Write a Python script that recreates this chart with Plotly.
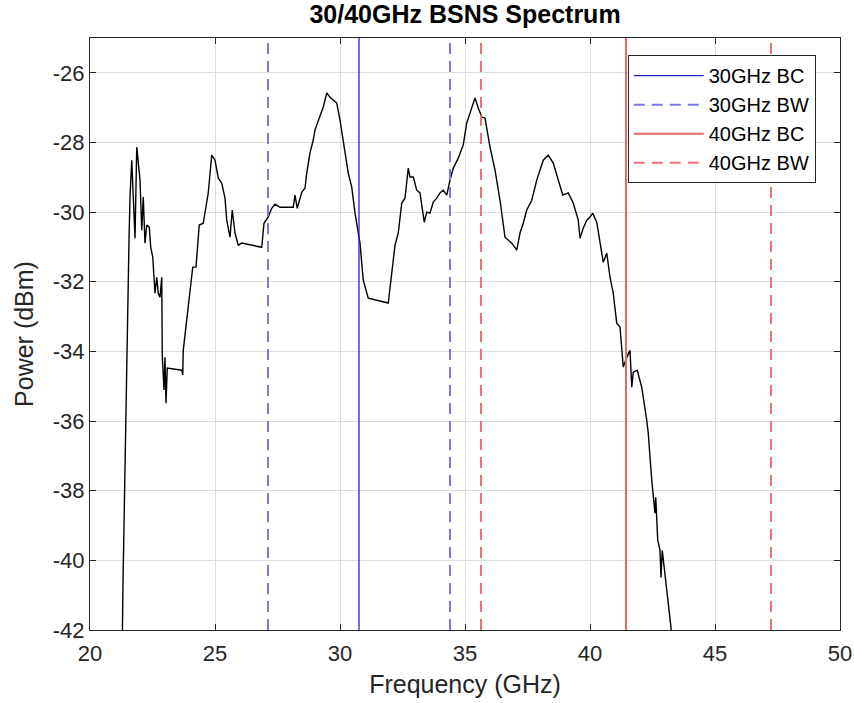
import plotly.graph_objects as go

# Spectrum trace (GHz, dBm)
freq = [21.28, 21.32, 21.56, 21.60, 21.67, 21.73, 21.80, 21.87, 21.93, 22.00,
        22.07, 22.13, 22.20, 22.27, 22.37, 22.43, 22.51, 22.60, 22.67, 22.73,
        22.80, 22.87, 22.89, 22.96, 23.00, 23.04, 23.09, 23.67, 23.71, 23.73,
        24.11, 24.24, 24.37, 24.53, 24.73, 24.87, 25.00, 25.13, 25.27, 25.40,
        25.47, 25.60, 25.69, 25.80, 25.93, 26.07, 26.87, 26.96, 27.13, 27.27,
        27.40, 27.60, 28.13, 28.20, 28.29, 28.40, 28.47, 28.60, 28.67, 28.80,
        28.93, 29.00, 29.20, 29.33, 29.47, 29.60, 29.73, 29.87, 30.00, 30.13,
        30.20, 30.33, 30.47, 30.60, 30.80, 30.93, 31.13, 31.33, 31.93, 32.07,
        32.20, 32.33, 32.47, 32.60, 32.73, 32.80, 32.93, 33.07, 33.20, 33.37,
        33.47, 33.60, 33.73, 33.87, 34.00, 34.13, 34.27, 34.40, 34.53, 34.73,
        34.93, 35.07, 35.20, 35.40, 35.53, 35.67, 35.80, 36.00, 36.20, 36.40,
        36.60, 36.87, 37.07, 37.20, 37.33, 37.47, 37.67, 37.87, 38.13, 38.33,
        38.53, 38.73, 38.91, 39.13, 39.33, 39.53, 39.60, 39.73, 39.87, 40.00,
        40.11, 40.27, 40.40, 40.53, 40.67, 40.80, 40.93, 41.07, 41.20, 41.33,
        41.47, 41.60, 41.67, 41.73, 41.89, 42.07, 42.27, 42.33, 42.47, 42.53,
        42.60, 42.63, 42.71, 42.80, 42.84, 42.89, 43.07, 43.13, 43.24, 43.28]
power = [-43.0, -40.66, -30.80, -29.57, -28.51, -29.74, -30.75, -28.13, -28.59, -29.08,
         -30.52, -29.57, -30.89, -30.37, -30.43, -31.01, -31.29, -32.33, -31.87, -32.33,
         -32.44, -31.87, -34.11, -35.11, -34.17, -35.49, -34.48, -34.54, -34.68, -33.97,
         -31.58, -31.58, -30.37, -30.32, -29.45, -28.36, -28.51, -29.02, -29.17, -29.60,
         -30.23, -30.72, -29.94, -30.60, -30.95, -30.89, -31.01, -30.32, -30.14, -29.89,
         -29.77, -29.86, -29.86, -29.51, -29.89, -29.60, -29.43, -29.31, -28.88, -28.30,
         -27.93, -27.64, -27.27, -26.98, -26.58, -26.70, -26.78, -26.87, -27.36, -27.93,
         -28.22, -28.88, -29.28, -30.03, -30.89, -31.95, -32.47, -32.50, -32.61, -31.75,
         -30.95, -30.60, -29.74, -29.60, -28.74, -28.99, -28.99, -29.37, -29.45, -30.29,
         -30.00, -30.03, -29.71, -29.60, -29.45, -29.37, -29.51, -29.08, -28.74, -28.45,
         -28.07, -27.44, -27.13, -26.72, -27.01, -27.27, -27.30, -28.13, -28.79, -29.66,
         -30.72, -30.89, -31.09, -30.60, -30.32, -29.94, -29.66, -29.08, -28.51, -28.36,
         -28.59, -29.08, -29.51, -29.45, -29.74, -30.23, -30.75, -30.46, -30.23, -30.14,
         -30.03, -30.29, -30.89, -31.44, -31.18, -31.87, -32.33, -33.19, -33.30, -34.45,
         -34.17, -33.97, -35.03, -34.60, -34.54, -35.03, -35.98, -36.35, -37.70, -38.19,
         -38.65, -38.19, -39.43, -39.71, -40.49, -39.71, -40.78, -41.15, -41.93, -42.44]

bc30 = 30.76
bw30 = [27.12, 34.40]
bc40 = 41.44
bw40 = [35.64, 47.24]

y_range = [-42, -25]
x_ticks = [20, 25, 30, 35, 40, 45, 50]
y_ticks = [-42, -40, -38, -36, -34, -32, -30, -28, -26]

FONT = "Liberation Sans, Arial"

fig = go.Figure()
fig.add_trace(go.Scatter(x=freq, y=power, mode="lines", showlegend=False,
                         line=dict(color="black", width=1.4)))


def vlines(xs, name, color, dash, width):
    xx, yy = [], []
    for v in xs:
        xx += [v, v, None]
        yy += [y_range[0], y_range[1], None]
    fig.add_trace(go.Scatter(x=xx, y=yy, mode="lines", name=name, legendgroup=name,
                             line=dict(color=color, dash=dash, width=width)))


vlines([bc30], "30GHz BC", "#2424c0", "solid", 1.3)
vlines(bw30, "30GHz BW", "#7878e8", "11px,7px", 2)
vlines([bc40], "40GHz BC", "#e06a6a", "solid", 2)
vlines(bw40, "40GHz BW", "#f07078", "11px,7px", 2)

axis_common = dict(showline=True, linecolor="#262626", linewidth=1, mirror="ticks",
                   ticks="inside", ticklen=6, tickcolor="#262626",
                   showgrid=True, gridcolor="#dcdcdc", gridwidth=1, zeroline=False,
                   automargin=False,
                   tickfont=dict(family=FONT, size=22, color="#262626"))

fig.update_layout(
    width=854, height=703,
    paper_bgcolor="white", plot_bgcolor="white",
    margin=dict(l=90, r=14, t=38, b=73),
    title=dict(text="<b>30/40GHz BSNS Spectrum</b>", x=0.5, xref="paper",
               xanchor="center", y=0.98, yanchor="middle",
               font=dict(family=FONT, size=25, color="black")),
    xaxis=dict(range=[20, 50], tickvals=x_ticks, ticktext=[str(v) for v in x_ticks],
               ticklabelstandoff=4, **axis_common,
               title=dict(text="Frequency (GHz)", standoff=10,
                          font=dict(family=FONT, size=25, color="#262626"))),
    yaxis=dict(range=y_range, tickvals=y_ticks, ticktext=[str(v) for v in y_ticks],
               ticklabelstandoff=0, **axis_common,
               title=dict(text="Power (dBm)", standoff=12,
                          font=dict(family=FONT, size=25, color="#262626"))),
    legend=dict(x=0.717, y=0.971, xanchor="left", yanchor="top",
                bgcolor="white", bordercolor="#262626", borderwidth=1,
                font=dict(family=FONT, size=20, color="black"),
                itemwidth=70, tracegroupgap=0),
)

fig.write_html("out.html", config={"displayModeBar": False},
               post_script="document.body.style.margin='0';")
